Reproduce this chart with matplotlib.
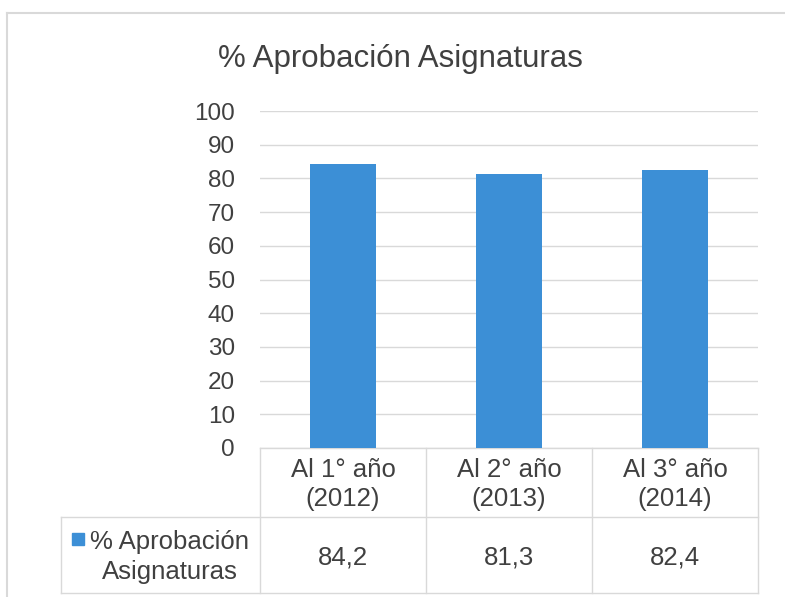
import matplotlib.pyplot as plt
from matplotlib.lines import Line2D
import matplotlib.transforms as mtransforms

plt.rcParams['font.family'] = ['Liberation Sans', 'DejaVu Sans']

categorias = ['Al 1° año\n(2012)', 'Al 2° año\n(2013)', 'Al 3° año\n(2014)']
aprobacion = [84.2, 81.3, 82.4]
serie = '% Aprobación\nAsignaturas'
titulo = '% Aprobación Asignaturas'

W, H = 785, 597
fig = plt.figure(figsize=(W / 100, H / 100), dpi=100)
ax = fig.add_axes([260 / W, 149 / H, 498 / W, 337 / H])

color_barra = '#3c8fd6'
gris = '#d9d9d9'
texto = '#404040'

x = list(range(len(categorias)))
ax.bar(x, aprobacion, width=0.4, color=color_barra, zorder=3)
ax.set_xlim(-0.5, len(categorias) - 0.5)
ax.set_ylim(0, 100)
ax.set_yticks(range(0, 101, 10))
ax.grid(axis='y', color=gris, linewidth=1)
ax.set_axisbelow(True)
for s in ax.spines.values():
    s.set_visible(False)
ax.tick_params(axis='y', length=0, pad=18, labelsize=17.5, labelcolor=texto)
ax.tick_params(axis='x', length=0, labelbottom=False)
for lbl in ax.get_yticklabels():
    lbl.set_va('center_baseline')

fig.text(400 / W, 1 - 59 / H, titulo, ha='center', va='center',
         fontsize=22.5, color=texto)

# tabla de datos debajo del eje
trans = mtransforms.blended_transform_factory(ax.transData, ax.transAxes)
fila1 = -69 / 337
fila2 = -145 / 337
izq = -0.5 - 199 / 166
der = len(categorias) - 0.5
kw = dict(color=gris, linewidth=1, transform=trans, clip_on=False)
ax.plot([-0.5, der], [0, 0], **kw)
ax.plot([izq, der], [fila1, fila1], **kw)
ax.plot([izq, der], [fila2, fila2], **kw)
ax.plot([izq, izq], [fila1, fila2], **kw)
for xv in [i - 0.5 for i in range(len(categorias) + 1)]:
    ax.plot([xv, xv], [0, fila2], **kw)

for i, (cat, val) in enumerate(zip(categorias, aprobacion)):
    ax.text(i, fila1 / 2 - 2 / 337, cat, transform=trans, ha='center', va='center',
            fontsize=18.5, color=texto, linespacing=1.3)
    ax.text(i, (fila1 + fila2) / 2 - 2 / 337, f'{val:.1f}'.replace('.', ','),
            transform=trans, ha='center', va='center', fontsize=18.5, color=texto)

ax.text(-0.5 - 90 / 166, (fila1 + fila2) / 2 - 2 / 337, serie, transform=trans,
        ha='center', va='center', fontsize=18.5, color=texto, linespacing=1.3)
ax.plot([-0.5 - 182 / 166], [fila1 - 22 / 337], marker='s', markersize=8,
        color=color_barra, transform=trans, clip_on=False, linestyle='none')

# borde exterior
fig.add_artist(Line2D([7 / W, 7 / W], [0, 1 - 13 / H], color=gris, linewidth=1.5,
                      transform=fig.transFigure))
fig.add_artist(Line2D([7 / W, 1], [1 - 13 / H, 1 - 13 / H], color=gris, linewidth=1.5,
                      transform=fig.transFigure))

fig.savefig('out.png', dpi=100)
